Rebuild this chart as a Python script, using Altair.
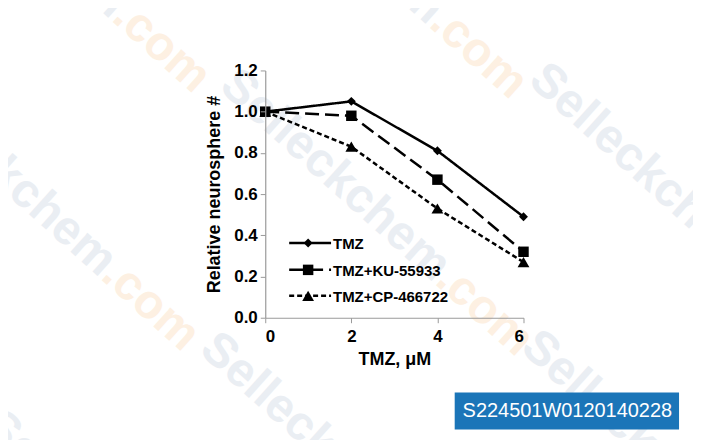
import math
import altair as alt
import pandas as pd

doses = [0, 2, 4, 6]
series_names = ["TMZ", "TMZ+KU-55933", "TMZ+CP-466722"]
tmz = [1.0, 1.05, 0.81, 0.49]
tmz_ku = [1.0, 0.98, 0.67, 0.32]
tmz_cp = [1.0, 0.83, 0.53, 0.27]
y_ticks = [0.0, 0.2, 0.4, 0.6, 0.8, 1.0, 1.2]
x_ticks = [0, 2, 4, 6]
stamp = "S224501W0120140228"
wm_word = "Selleckchem"
wm_tail = ".com"

rows = []
for name, vals in zip(series_names, [tmz, tmz_ku, tmz_cp]):
    for d, v in zip(doses, vals):
        rows.append({"dose": d, "value": v, "series": name})
df = pd.DataFrame(rows)

FONT = "Liberation Sans"
W, H = 259, 248
OX, OY = 266, 70  # plot origin on page

xs = alt.X("dose:Q", scale=alt.Scale(domain=[0, 6], nice=False, zero=False),
           axis=alt.Axis(values=x_ticks, title="TMZ, \u03bcM", format="d", zindex=2))
ys = alt.Y("value:Q", scale=alt.Scale(domain=[0, 1.2], nice=False),
           axis=alt.Axis(values=y_ticks, format=".1f", title="Relative neurosphere #", zindex=2))

dash_scale = alt.Scale(domain=series_names, range=[[1, 0], [14, 6], [5, 3]])
shape_scale = alt.Scale(domain=series_names, range=["diamond", "square", "triangle-up"])
size_scale = alt.Scale(domain=series_names, range=[80, 140, 100])

# watermarks (faint background)
layers = []
ANG = 42
WM_FS = 48
word_len = 291
ca, sa = math.cos(math.radians(ANG)), math.sin(math.radians(ANG))
wm_starts = [(228, 78), (-96, -186), (-107, 73), (222, -180), (538, 72),
             (208, 342), (530, 340), (-10, 420)]
wmdf = pd.DataFrame({"w": [wm_word], "t": [wm_tail]})
for (sx, sy) in wm_starts:
    layers.append(alt.Chart(wmdf).mark_text(
        align="left", baseline="middle", font=FONT, fontSize=WM_FS, fontWeight="bold",
        angle=ANG, color="#eaeef3").encode(
        x=alt.value(sx - OX), y=alt.value(sy - OY), text="w:N"))
    tx, ty = sx + word_len * ca, sy + word_len * sa
    layers.append(alt.Chart(wmdf).mark_text(
        align="left", baseline="middle", font=FONT, fontSize=WM_FS, fontWeight="bold",
        angle=ANG, color="#fdf0e2").encode(
        x=alt.value(tx - OX), y=alt.value(ty - OY), text="t:N"))

lines = alt.Chart(df).mark_line(color="black", strokeWidth=2.5).encode(
    x=xs, y=ys,
    strokeDash=alt.StrokeDash("series:N", scale=dash_scale, legend=None),
    detail="series:N",
)
points = alt.Chart(df).mark_point(filled=True, color="black", opacity=1).encode(
    x=xs, y=ys,
    shape=alt.Shape("series:N", scale=shape_scale, legend=None),
    size=alt.Size("series:N", scale=size_scale, legend=None),
)
layers += [lines, points]

# manual legend
leg_y = {0: 173, 1: 200, 2: 226}
for i, name in enumerate(series_names):
    one = pd.DataFrame({"series": [name]})
    base = alt.Chart(one)
    layers.append(base.mark_rule(color="black", strokeWidth=2.5).encode(
        x=alt.value(24), x2=alt.value(66), y=alt.value(leg_y[i]),
        strokeDash=alt.StrokeDash("series:N", scale=dash_scale, legend=None)))
    layers.append(base.mark_point(filled=True, color="black", opacity=1).encode(
        x=alt.value(43), y=alt.value(leg_y[i]),
        shape=alt.Shape("series:N", scale=shape_scale, legend=None),
        size=alt.Size("series:N", scale=size_scale, legend=None)))
    layers.append(base.mark_text(align="left", baseline="middle", font=FONT,
                                 fontSize=15, fontWeight="bold", color="black").encode(
        x=alt.value(68), y=alt.value(leg_y[i] + 1), text="series:N"))

# stamp box
sdf = pd.DataFrame({"t": [stamp]})
layers.append(alt.Chart(sdf).mark_rect(color="#1b75b8").encode(
    x=alt.value(190), x2=alt.value(415), y=alt.value(323), y2=alt.value(360)))
layers.append(alt.Chart(sdf).mark_text(align="center", baseline="middle", font=FONT,
                                       fontSize=20, color="white").encode(
    x=alt.value(303), y=alt.value(342), text="t:N"))

chart = alt.layer(*layers).properties(
    width=W, height=H,
    autosize=alt.AutoSizeParams(type="none"),
    padding={"left": 258, "top": 62, "right": 170, "bottom": 122},
).configure_view(stroke=None).configure_axis(
    grid=False, domainColor="#9a9a9a", tickColor="#9a9a9a", domainWidth=1.2,
    tickSize=5, labelFont=FONT, labelFontSize=17, labelFontWeight="bold",
    labelColor="black", titleFont=FONT, titleFontSize=18, titleFontWeight="bold",
    titleColor="black",
).configure_axisY(titlePadding=10, labelPadding=3).configure_axisX(titlePadding=6, labelPadding=6)

chart.save("out.html", embed_options={"renderer": "svg", "actions": False})
